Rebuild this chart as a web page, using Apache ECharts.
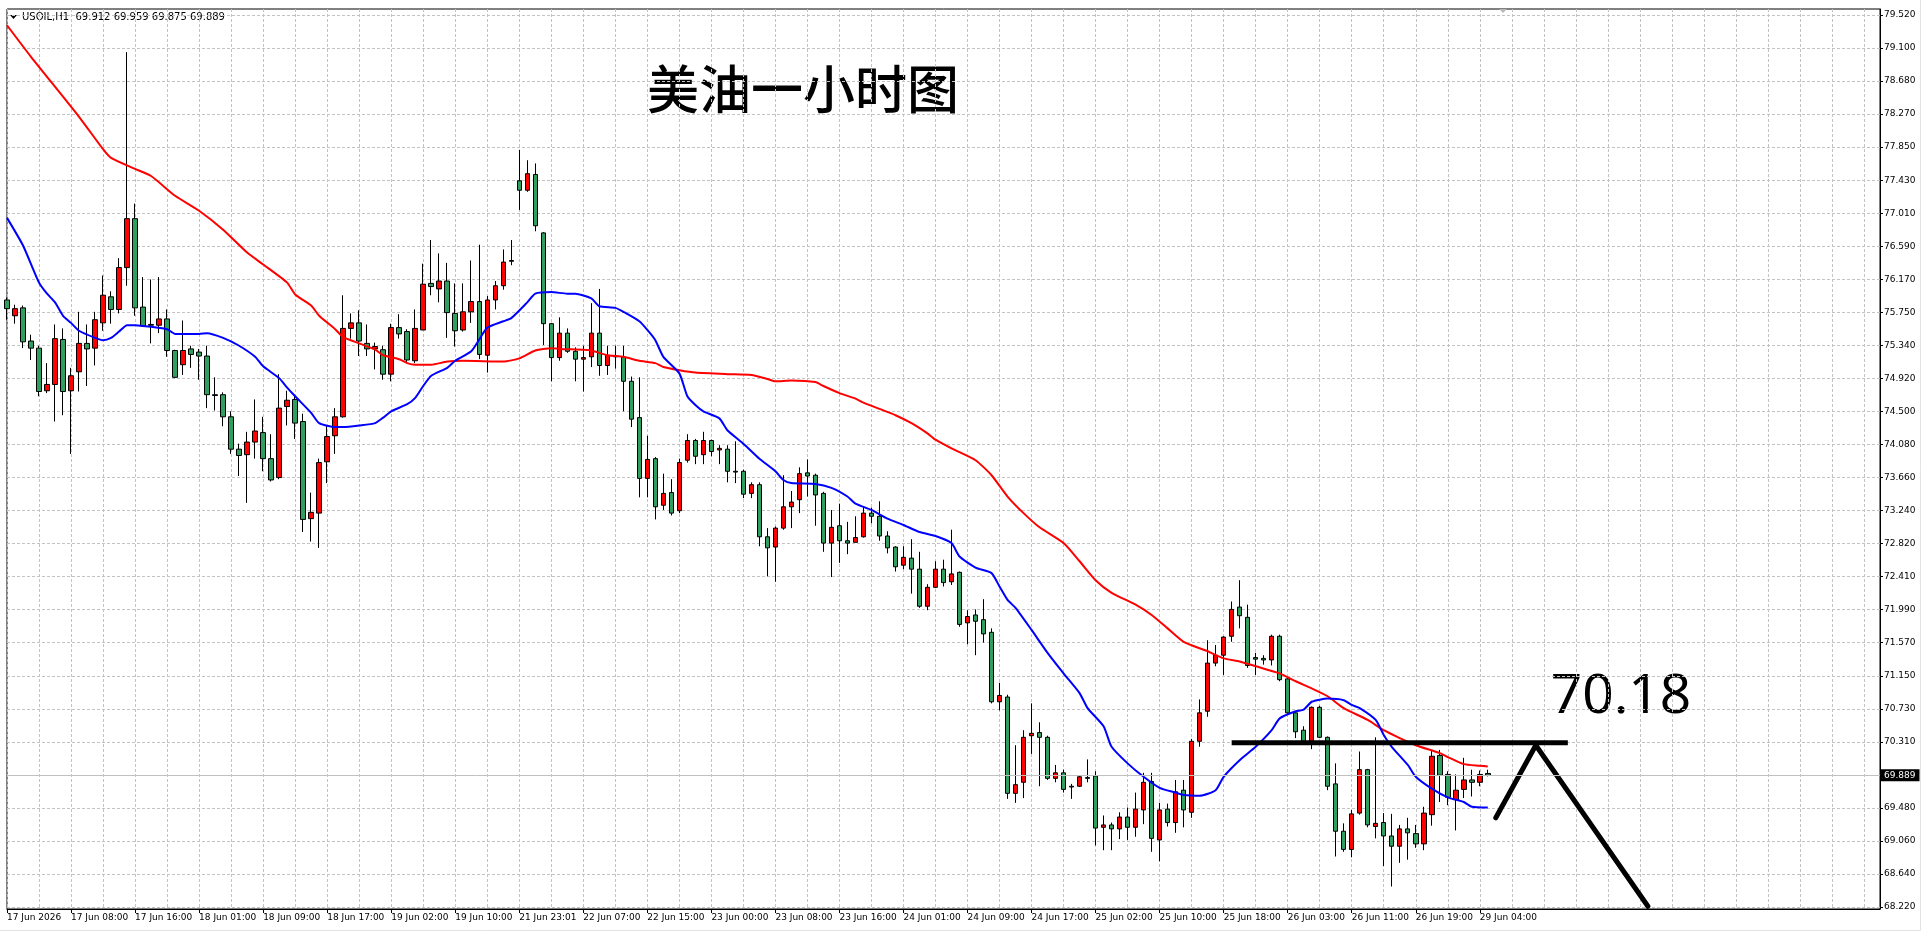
<!DOCTYPE html>
<html>
<head>
<meta charset="utf-8">
<title>USOIL H1</title>
<script src="https://cdn.jsdelivr.net/npm/echarts@6/dist/echarts.min.js"></script>
<style>
  html, body { margin: 0; padding: 0; background: #fff; }
  #chart { width: 1932px; height: 942px; }
</style>
</head>
<body>
<div id="chart"></div>
<script>
'use strict';

// time labels every 8 bars (MT4 style)
var TIME_LABELS = ['17 Jun 2026', '17 Jun 08:00', '17 Jun 16:00', '18 Jun 01:00', '18 Jun 09:00', '18 Jun 17:00',
  '19 Jun 02:00', '19 Jun 10:00', '21 Jun 23:01', '22 Jun 07:00', '22 Jun 15:00', '23 Jun 00:00',
  '23 Jun 08:00', '23 Jun 16:00', '24 Jun 01:00', '24 Jun 09:00', '24 Jun 17:00', '25 Jun 02:00',
  '25 Jun 10:00', '25 Jun 18:00', '26 Jun 03:00', '26 Jun 11:00', '26 Jun 19:00', '29 Jun 04:00'];

var OPEN = [75.91,75.71,75.81,75.39,75.30,74.76,74.84,75.41,74.76,75.00,75.36,75.30,75.62,75.95,75.79,76.32,76.94,75.82,75.60,75.59,
  75.67,75.27,75.09,75.29,75.25,75.20,74.71,74.71,74.43,74.02,73.95,74.11,74.23,73.90,73.66,74.56,74.65,74.37,73.14,73.21,
  73.86,74.19,74.43,75.55,75.62,75.36,75.29,75.28,74.97,75.56,75.51,75.14,75.53,76.12,76.05,76.15,75.74,75.53,75.76,75.89,
  75.21,75.91,76.09,76.40,77.42,77.30,77.50,76.76,75.61,75.18,75.49,75.26,75.16,75.19,75.49,75.08,75.19,75.19,74.88,74.42,
  73.65,73.90,73.31,73.47,73.24,73.88,74.13,73.95,74.13,74.01,74.02,73.74,73.74,73.46,73.57,72.91,72.78,73.02,73.29,73.38,
  73.72,73.69,73.46,72.83,73.05,72.86,72.84,72.91,73.21,73.17,72.92,72.78,72.55,72.64,72.50,72.03,72.27,72.50,72.34,72.46,
  71.82,71.92,71.86,71.70,70.82,70.88,69.66,69.80,70.39,70.43,70.37,69.85,69.92,69.75,69.75,69.86,69.88,69.23,69.26,69.21,
  69.36,69.23,69.45,69.81,69.07,69.46,69.29,69.70,69.42,70.32,70.70,71.31,71.41,71.65,72.02,71.89,71.38,71.37,71.35,71.65,
  71.11,70.68,70.46,70.32,70.75,70.37,69.78,69.18,68.95,69.41,69.96,69.24,69.29,69.12,68.99,69.21,69.15,69.02,69.39,70.14,
  69.90,69.58,69.71,69.83,69.80,69.912];
var HIGH = [75.94,75.85,75.84,75.47,75.33,75.11,75.60,75.55,75.05,75.76,75.60,75.76,76.22,76.02,76.44,79.05,77.13,76.20,76.17,76.20,
  75.79,75.28,75.65,75.33,75.29,75.33,74.93,74.74,74.50,74.09,74.24,74.65,74.43,74.21,74.97,74.76,74.71,74.47,73.47,73.90,
  74.32,74.54,75.97,75.74,75.78,75.60,75.37,75.33,75.61,75.73,75.54,75.79,76.37,76.67,76.50,76.38,76.12,76.12,76.41,76.61,
  75.96,76.15,76.55,76.67,77.81,77.68,77.64,76.77,75.62,75.69,75.55,75.31,75.33,75.87,76.05,75.33,75.33,75.33,74.94,74.93,
  74.19,73.92,73.71,73.64,73.90,74.21,74.15,74.24,74.14,74.07,74.07,74.12,73.76,73.60,73.60,73.02,73.04,73.69,73.49,73.79,
  73.89,73.71,73.48,73.25,73.33,73.10,73.17,73.29,73.28,73.36,72.98,72.79,72.79,72.88,72.72,72.31,72.60,72.62,73.00,72.47,
  71.98,71.99,72.12,71.75,71.06,70.91,70.27,70.46,70.80,70.56,70.39,70.02,69.96,69.78,69.89,70.09,69.94,69.38,69.29,69.42,
  69.48,69.67,69.92,69.92,69.54,69.53,69.83,69.83,70.35,70.85,71.60,71.54,71.65,72.09,72.36,72.05,71.44,71.41,71.67,71.67,
  71.12,70.70,70.51,70.76,70.77,70.38,70.04,69.28,69.45,70.19,69.97,70.37,69.41,69.40,69.26,69.35,69.26,69.49,70.20,70.21,
  69.94,69.90,70.11,69.96,69.95,69.959];
var LOW = [75.66,75.61,75.30,75.15,74.69,74.73,74.37,74.45,73.96,74.75,74.82,75.08,75.52,75.61,75.74,76.09,75.71,75.57,75.36,75.49,
  75.19,74.92,74.96,75.05,74.90,74.54,74.51,74.31,73.96,73.68,73.34,73.90,73.74,73.61,73.64,74.32,74.15,72.97,72.85,72.77,
  73.59,73.96,74.42,75.42,75.20,75.20,75.03,74.90,74.88,75.42,75.11,75.11,75.53,75.97,75.88,75.43,75.32,75.51,75.62,75.16,
  74.99,75.79,76.04,76.35,77.05,77.28,76.78,75.34,74.88,75.14,75.24,74.88,74.75,75.06,74.95,74.96,75.04,74.50,74.30,73.41,
  73.41,73.13,73.25,73.18,73.21,73.85,73.83,73.83,73.93,73.83,73.60,73.59,73.40,73.40,72.79,72.41,72.34,73.00,73.02,73.21,
  73.42,73.05,72.72,72.40,72.58,72.69,72.84,72.90,73.08,72.86,72.70,72.47,72.50,72.19,72.01,71.98,72.26,72.28,72.30,71.77,
  71.55,71.41,71.57,70.80,70.71,69.59,69.54,69.60,70.16,69.75,69.83,69.80,69.67,69.59,69.74,69.80,69.00,68.94,68.94,69.08,
  69.07,69.11,69.27,68.92,68.80,69.24,69.16,69.23,69.35,70.25,70.63,71.27,71.16,71.58,71.75,71.25,71.16,71.29,71.28,71.08,
  70.66,70.36,70.30,70.22,70.36,69.70,68.86,68.92,68.85,69.39,69.23,69.09,68.74,68.48,68.78,68.82,68.97,68.94,69.25,69.55,
  69.51,69.19,69.60,69.62,69.75,69.875];
var CLOSE = [75.80,75.80,75.38,75.30,74.75,74.84,75.42,74.75,74.95,75.36,75.29,75.66,75.97,75.79,76.32,76.94,75.81,75.58,75.59,75.67,
  75.27,74.93,75.27,75.22,75.20,74.71,74.70,74.43,74.02,73.94,74.11,74.25,73.90,73.63,74.54,74.64,74.35,73.13,73.22,73.85,
  74.18,74.43,75.55,75.62,75.39,75.29,75.32,74.97,75.56,75.48,75.15,75.55,76.11,76.08,76.15,75.75,75.52,75.76,75.89,75.22,
  75.91,76.09,76.39,76.41,77.30,77.51,76.85,75.61,75.18,75.49,75.26,75.16,75.18,75.49,75.08,75.21,75.20,74.88,74.40,73.65,
  73.89,73.29,73.46,73.21,73.85,74.13,73.93,74.13,73.99,74.03,73.74,73.73,73.45,73.57,72.91,72.77,73.02,73.29,73.35,73.71,
  73.68,73.44,72.83,73.03,72.86,72.83,72.90,73.21,73.17,72.92,72.77,72.53,72.65,72.50,72.03,72.27,72.50,72.33,72.44,71.80,
  71.90,71.84,71.68,70.82,70.90,69.66,69.77,70.37,70.42,70.37,69.85,69.92,69.71,69.74,69.87,69.85,69.22,69.26,69.21,69.36,
  69.23,69.46,69.80,69.09,69.45,69.29,69.68,69.45,70.32,70.68,71.31,71.41,71.64,71.99,71.91,71.28,71.36,71.35,71.65,71.10,
  70.68,70.44,70.32,70.75,70.37,69.75,69.18,68.95,69.40,69.96,69.26,69.28,69.12,68.99,69.21,69.16,69.02,69.41,70.13,69.89,
  69.61,69.70,69.83,69.80,69.90,69.889];

// moving averages: [bar index, price]
var MA_FAST = [[0,76.95],[2,76.60],[4,76.13],[5,75.99],[6.3,75.88],[7.2,75.71],[8,75.62],[9.2,75.52],[10.7,75.43],[12.1,75.40],
  [13.2,75.43],[14.1,75.51],[15.2,75.59],[16.1,75.59],[17.9,75.57],[19.7,75.54],[21,75.48],[23.7,75.48],[25,75.49],[26.8,75.43],
  [28.6,75.33],[31,75.19],[32.4,75.07],[33.7,74.92],[35,74.80],[36.2,74.69],[37.5,74.48],[38.9,74.35],[40.6,74.30],[42,74.30],
  [43.8,74.32],[45.6,74.35],[47.1,74.42],[48.2,74.50],[49.6,74.59],[50.9,74.67],[52,74.82],[53.1,74.95],[54.9,75.05],[56.3,75.14],
  [57.6,75.26],[59,75.41],[60.3,75.56],[61.6,75.64],[63,75.68],[64.8,75.88],[66.1,75.99],[68,76.01],[70,75.99],[71,75.99],
  [72.5,75.93],[74.3,75.83],[76,75.81],[77,75.76],[78.8,75.64],[80.1,75.53],[81,75.40],[82.4,75.19],[83.7,74.98],[85,74.69],
  [86,74.58],[87,74.50],[88.6,74.41],[90.4,74.26],[92.2,74.09],[94,73.90],[95.7,73.74],[97,73.63],[98.2,73.59],[101,73.58],
  [103,73.53],[104.7,73.42],[106.4,73.33],[108.2,73.25],[110,73.14],[111.8,73.06],[114,72.97],[116,72.92],[117.7,72.83],[119.4,72.66],
  [121,72.52],[122.5,72.45],[123.8,72.28],[125.2,72.11],[126,72.01],[128,71.73],[130.4,71.44],[132.2,71.18],[134,70.93],[135.3,70.74],
  [136.6,70.51],[138.4,70.25],[140.2,70.04],[142,69.87],[143.7,69.73],[145.5,69.67],[147.3,69.64],[149,69.63],[150.5,69.70],[152.2,69.87],
  [154,70.08],[155.8,70.25],[157.6,70.46],[159.4,70.61],[160.7,70.70],[162,70.72],[163.4,70.82],[164.7,70.86],[166.5,70.84],[168,70.78],
  [169.2,70.74],[170.5,70.59],[171.9,70.40],[173,70.25],[174.6,70.02],[176,69.87],[177.8,69.72],[180,69.61],[181.8,69.55],[183.2,69.49],
  [185,69.48]];
var MA_SLOW = [[0,79.39],[3.3,78.99],[8.5,78.23],[11.6,77.82],[13,77.71],[16.1,77.57],[17.9,77.48],[21,77.23],[24.1,77.04],
  [27.2,76.80],[30.4,76.51],[32.2,76.36],[34.8,76.13],[36.2,75.98],[37.5,75.84],[38.9,75.71],[40.6,75.54],[42,75.44],[43.8,75.36],
  [45.6,75.28],[47.3,75.21],[48.7,75.16],[50,75.11],[51.4,75.09],[52.7,75.09],[54.5,75.13],[57.2,75.14],[61.6,75.13],[63.5,75.17],
  [65.5,75.27],[67.7,75.30],[69.4,75.29],[71.6,75.28],[73.4,75.27],[75.2,75.21],[77,75.19],[78.8,75.14],[80.5,75.11],[82.3,75.06],
  [84.1,75.02],[85.9,74.99],[90.4,74.97],[93,74.96],[94.8,74.91],[96.2,74.88],[98.4,74.89],[100.6,74.87],[101.9,74.82],[103.7,74.73],
  [105.5,74.66],[107.3,74.61],[109.1,74.53],[110.9,74.45],[112.7,74.35],[114.5,74.22],[116.3,74.14],[118.2,74.03],[120.5,73.88],[122.7,73.69],
  [125,73.42],[127.2,73.21],[129.3,73.03],[131.7,72.83],[133.9,72.60],[136.4,72.36],[138.4,72.20],[140.6,72.05],[142.9,71.92],[145.1,71.75],
  [147.3,71.58],[149.6,71.46],[151.8,71.37],[154,71.33],[156.3,71.27],[158.5,71.18],[160.7,71.08],[163,70.99],[165.2,70.89],[167.4,70.74],
  [169.7,70.59],[171.9,70.46],[174.1,70.36],[176.4,70.27],[178.6,70.17],[180,70.12],[182.3,70.03],[183.6,70.01],[185,70.00]];

// right axis labels, bottom to top (the one under the price tag is hidden)
var Y_TICK_LABELS = ['68.220','68.640','69.060','69.480','','70.310','70.730','71.150','71.570','71.990','72.410','72.820','73.240','73.660',
  '74.080','74.500','74.920','75.340','75.750','76.170','76.590','77.010','77.430','77.850','78.270','78.680','79.100','79.520'];
var Y_MIN = 68.195, Y_MAX = 79.596;

// hand drawn annotations, in bar index / price
var LEVEL_LINE = [[152.75, 70.30], [195.25, 70.30]];
var ZIGZAG = [[186.0, 69.35], [190.75, 70.27], [205.1, 68.23]];
var LEVEL_TEXT = '70.18';
var TITLE = '美油一小时图';
var SYMBOL = 'USOIL,H1';

var SLOTS = 235;
var AXIS_FONT = 'DejaVu Sans';

var last = OPEN.length - 1;
var lastPrice = CLOSE[last];

var cats = [];
for (var i = 0; i < SLOTS; i++) cats.push(String(i));

var candles = OPEN.map(function (o, i) {
  return [o, CLOSE[i], LOW[i], HIGH[i]];
});

var yLo = parseFloat(Y_TICK_LABELS[0]);
var yHi = parseFloat(Y_TICK_LABELS[Y_TICK_LABELS.length - 1]);
var yStep = (yHi - yLo) / (Y_TICK_LABELS.length - 1);
var yTicks = Y_TICK_LABELS.map(function (s, k) { return yLo + k * yStep; });

function timeLabelShown(idx) {
  return idx % 8 === 0 && idx / 8 < TIME_LABELS.length;
}

var header = SYMBOL + '  ' + [OPEN[last], HIGH[last], LOW[last], CLOSE[last]].map(function (v) {
  return v.toFixed(3);
}).join(' ');

var gridColor = '#c3c3c3';

var myChart = echarts.init(document.getElementById('chart'), null, { renderer: 'canvas' });

var option = {
  animation: false,
  backgroundColor: '#fff',
  grid: {
    left: 7, right: 52, top: 9, bottom: 33,
    show: true, borderColor: '#000', borderWidth: 1,
    containLabel: false, outerBoundsMode: 'none'
  },
  xAxis: {
    type: 'category',
    data: cats,
    boundaryGap: false,
    axisLine: { show: true, onZero: false, lineStyle: { color: '#000', width: 1 } },
    axisTick: { show: true, length: 4, interval: timeLabelShown, lineStyle: { color: '#000' } },
    axisLabel: {
      show: true,
      interval: timeLabelShown,
      formatter: function (v, idx) { return TIME_LABELS[idx / 8] || ''; },
      align: 'left',
      margin: 4,
      fontSize: 9,
      fontFamily: AXIS_FONT,
      color: '#000'
    },
    splitLine: { show: true, interval: 3, lineStyle: { color: gridColor, type: [3, 2], width: 1 } }
  },
  yAxis: {
    type: 'value',
    position: 'right',
    min: Y_MIN,
    max: Y_MAX,
    axisLine: { show: true, lineStyle: { color: '#000', width: 1 } },
    axisTick: { show: true, length: 3, customValues: yTicks, lineStyle: { color: '#000' } },
    axisLabel: {
      customValues: yTicks,
      formatter: function (v) {
        var k = Math.round((v - yLo) / yStep);
        return Y_TICK_LABELS[k] || '';
      },
      margin: 4,
      fontSize: 9,
      fontFamily: AXIS_FONT,
      color: '#000'
    },
    splitLine: { show: true, lineStyle: { color: gridColor, type: [3, 2], width: 1 } }
  },
  series: [
    {
      type: 'candlestick',
      data: candles,
      barWidth: 5,
      clip: true,
      itemStyle: {
        color: '#ff0000',
        color0: '#2f9e5f',
        borderColor: '#000',
        borderColor0: '#000',
        borderWidth: 1
      },
      markLine: {
        silent: true,
        symbol: ['none', 'none'],
        animation: false,
        lineStyle: { color: '#c0c0c0', type: 'solid', width: 1 },
        label: {
          show: true,
          position: 'end',
          distance: 1,
          formatter: lastPrice.toFixed(3),
          backgroundColor: '#000',
          color: '#fff',
          padding: [2, 4, 1, 3],
          fontSize: 9,
          fontFamily: AXIS_FONT
        },
        data: [{ yAxis: lastPrice }]
      }
    },
    {
      type: 'line',
      data: MA_SLOW,
      showSymbol: false,
      smooth: 0.2,
      lineStyle: { color: '#ff0000', width: 2 },
      z: 3
    },
    {
      type: 'line',
      data: MA_FAST,
      showSymbol: false,
      smooth: 0.2,
      lineStyle: { color: '#0000ff', width: 2 },
      z: 3
    },
    {
      type: 'line',
      data: LEVEL_LINE,
      showSymbol: false,
      lineStyle: { color: '#000', width: 5 },
      z: 4
    },
    {
      type: 'line',
      data: ZIGZAG,
      showSymbol: false,
      lineStyle: { color: '#000', width: 5, cap: 'round', join: 'miter' },
      z: 4
    }
  ],
  graphic: [
    { type: 'polygon', shape: { points: [[10, 15], [17, 15], [13.5, 19]] }, style: { fill: '#000' } },
    { type: 'polygon', shape: { points: [[1499, 9], [1507, 9], [1503, 13]] }, style: { fill: '#b8b8b8' } },
    {
      type: 'text',
      style: { text: header, x: 22, y: 17, font: '10px "DejaVu Sans"', fill: '#000', align: 'left', verticalAlign: 'middle', textAlign: 'left', textVerticalAlign: 'middle' }
    },
    {
      type: 'text',
      style: { text: TITLE, x: 803, y: 89, font: '500 52px "Noto Sans CJK SC"', fill: '#000', align: 'center', verticalAlign: 'middle', textAlign: 'center', textVerticalAlign: 'middle' }
    },
    {
      type: 'text',
      style: { text: LEVEL_TEXT, x: 1621, y: 697, font: '55px "Noto Sans"', fill: '#000', align: 'center', verticalAlign: 'middle', textAlign: 'center', textVerticalAlign: 'middle' }
    },
    { type: 'line', shape: { x1: 1920.5, y1: 0, x2: 1920.5, y2: 930.5 }, style: { stroke: '#e3e3e3', lineWidth: 1 } },
    { type: 'line', shape: { x1: 0, y1: 930.5, x2: 1920.5, y2: 930.5 }, style: { stroke: '#e3e3e3', lineWidth: 1 } }
  ]
};

myChart.setOption(option);
</script>
</body>
</html>
